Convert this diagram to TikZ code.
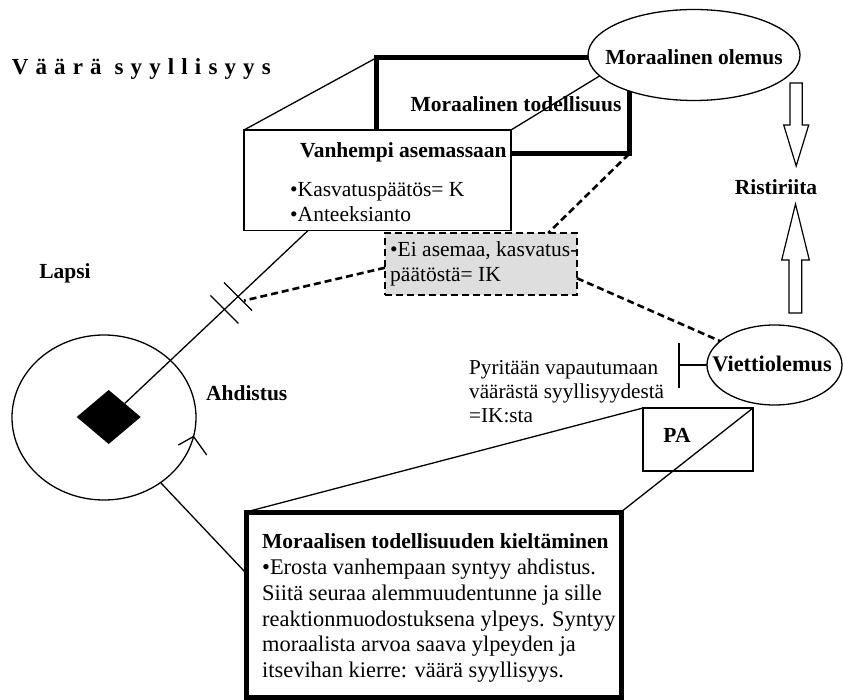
\documentclass[tikz,border=0pt]{standalone}
\usepackage{fontspec}
\setmainfont{Liberation Serif}
\usetikzlibrary{calc,shapes.geometric}

\begin{document}
\begin{tikzpicture}[x=1pt,y=-1pt,
  wire/.style={line width=1.3pt},
  frame/.style={draw, line width=1.3pt, inner sep=0pt, outer sep=0pt},
  heavyframe/.style={draw, line width=5pt, inner sep=0pt, outer sep=0pt},
  blob/.style={ellipse, draw, line width=1.3pt, fill=white, inner sep=0pt, outer sep=0pt},
  dashline/.style={line width=2.6pt, dash pattern=on 7pt off 4pt},
  lbl/.style={font=\fontsize{21.5}{25}\selectfont\bfseries, inner sep=0pt, anchor=base},
  hdr/.style={font=\fontsize{21.5}{25}\selectfont\bfseries, inner sep=0pt, anchor=base west},
  txt/.style={font=\fontsize{21.5}{25}\selectfont, inner sep=0pt, anchor=base west},
  bigtxt/.style={font=\fontsize{22.4}{26}\selectfont, inner sep=0pt, anchor=base west},
  blockarrow/.style={draw, line width=1.2pt, fill=white, line join=miter}
]
\definecolor{panelgray}{RGB}{222,222,222}
\fill[white] (0,0) rectangle (843,700);
\useasboundingbox (0,0) rectangle (843,700);

% heading
\node[anchor=base west, inner sep=0pt,
  font=\fontsize{23}{28}\selectfont\bfseries\addfontfeature{LetterSpace=31}]
  (title) at (11.7,75) {Väärä syyllisyys};

% upper block: back face (moral reality) and front face (parent)
\node[heavyframe, minimum width=253, minimum height=96, anchor=north west] (mtod) at (376,58) {};
\node[frame, fill=white, minimum width=267, minimum height=100.5, anchor=north west] (vbox) at (244,130) {};
\draw[wire] (vbox.north west) -- (mtod.north west);
\draw[wire] (vbox.north east) -- (mtod.north east);

\node[hdr] (vboxT) at (300,158) {Vanhempi asemassaan};
\node[txt] (vboxA) at (290,196.7) {•Kasvatuspäätös= K};
\node[txt] (vboxB) at (290,221.7) {•Anteeksianto};

% moral being
\node[blob, minimum width=212, minimum height=91] (molemus) at (694,55) {};
\node[lbl] (molemusT) at (694,65) {Moraalinen olemus};
\node[lbl] (mtodT) at (516,111.7) {Moraalinen todellisuus};

% gray panel
\node[draw, dashline, fill=panelgray, inner sep=0pt, outer sep=0pt,
  minimum width=192, minimum height=62, anchor=north west] (gray) at (385,233) {};
\node[txt] (grayA) at (390,257) {•Ei asemaa, kasvatus-};
\node[txt] (grayB) at (390,282) {päätöstä= IK};
\draw[dashline] (mtod.south east) -- ($(gray.north west)!0.85!(gray.north east)$);

% child
\node[ellipse, draw, line width=1.3pt, inner sep=0pt, outer sep=0pt,
  minimum width=184, minimum height=165] (lapsi) at (104,417.5) {};
\node[diamond, fill=black, inner sep=0pt, outer sep=0pt,
  minimum width=64, minimum height=54] (dia) at (108.7,417) {};
\node[lbl] (lapsiT) at (65,279) {Lapsi};
\node[lbl] (ahdT) at (246.7,400) {Ahdistus};

\coordinate (vfoot) at ($(vbox.south west)!0.24!(vbox.south east)$);
\draw[wire] (dia.north east) -- (vfoot);
\coordinate (t1) at ($(dia.north east)!0.544!(vfoot)$);
\coordinate (t2) at ($(dia.north east)!0.618!(vfoot)$);
\draw[wire] ($(t1)+(-14,-14)$) -- ($(t1)+(14,14)$);
\draw[wire] ($(t2)+(-14,-14)$) -- ($(t2)+(14,14)$);
\coordinate (dashEnd) at ($(t2)+(6,4)$);
\draw[dashline] ($(gray.north west)!0.56!(gray.south west)$) -- (dashEnd);

% small arrowhead on the anxiety circle
\coordinate (ahdTip) at (lapsi.-12);
\draw[wire] ($(ahdTip)+(-15.2,8.5)$) -- (ahdTip) -- ($(ahdTip)+(13.2,18.5)$);

% lower block: back face (PA) and front face
\node[heavyframe, fill=white, minimum width=375, minimum height=185, anchor=north west] (mkb) at (246,512) {};
\node[frame, minimum width=110, minimum height=63, anchor=north west] (pa) at (643,408) {};
\draw[wire] (pa.north west) -- (mkb.north west);
\draw[wire] (pa.north east) -- (mkb.north east);
\node[lbl] (paT) at (677,442.7) {PA};
\draw[wire] (lapsi.-49) -- ($(mkb.north west)!0.33!(mkb.south west)$);

\node[hdr] (mkbT) at (262,548) {Moraalisen todellisuuden kieltäminen};
\node[bigtxt] (mkb1) at (262,574) {•Erosta vanhempaan syntyy ahdistus.};
\node[bigtxt] (mkb2) at (262,600) {Siitä seuraa alemmuudentunne ja sille};
\node[bigtxt] (mkb3) at (262,626) {reaktionmuodostuksena ylpeys. Syntyy};
\node[bigtxt] (mkb4) at (262,651.5) {moraalista arvoa saava ylpeyden ja};
\node[bigtxt] (mkb5) at (262,677) {itsevihan kierre: väärä syyllisyys.};

% drive being
\node[blob, minimum width=135, minimum height=80] (viet) at (774.5,365) {};
\draw[dashline] ($(gray.north east)!0.73!(gray.south east)$) -- (viet);
\node[lbl, font=\fontsize{22.3}{26}\selectfont\bfseries] (vietT) at (772,371.7) {Viettiolemus};
\draw[wire] (viet.west) -- ++(-28,0) coordinate (bar);
\draw[wire] ($(bar)+(0,-22)$) -- ($(bar)+(0,23)$);
\node[txt, font=\fontsize{21.2}{24}\selectfont] (pyrA) at (469,374) {Pyritään vapautumaan};
\node[txt, font=\fontsize{21.2}{24}\selectfont] (pyrB) at (469,398) {väärästä syyllisyydestä};
\node[txt, font=\fontsize{21.2}{24}\selectfont] (pyrC) at (469,422) {=IK:sta};

% conflict and the two block arrows
\node[lbl] (rist) at (776,195) {Ristiriita};
\draw[blockarrow] (790,83) -- (802.3,83) -- (802.3,125) -- (808.7,125) -- (796.2,166)
  -- (783.7,125) -- (790,125) -- cycle;
\draw[blockarrow] (795.5,204) -- (809.3,260) -- (801.8,260) -- (801.8,313) -- (789,313)
  -- (789,260) -- (781.7,260) -- cycle;
\end{tikzpicture}
\end{document}
